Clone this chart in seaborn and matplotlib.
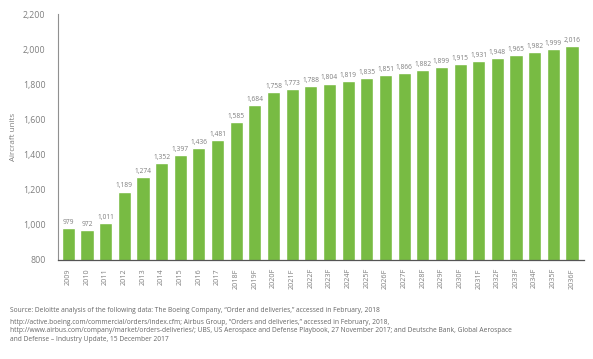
import matplotlib
matplotlib.use("Agg")
import numpy as np
import pandas as pd
import seaborn as sns
import matplotlib.pyplot as plt

years = ["2009", "2010", "2011", "2012", "2013", "2014", "2015", "2016", "2017",
         "2018F", "2019F", "2020F", "2021F", "2022F", "2023F", "2024F", "2025F",
         "2026F", "2027F", "2028F", "2029F", "2030F", "2031F", "2032F", "2033F",
         "2034F", "2035F", "2036F"]
units = [979, 972, 1011, 1189, 1274, 1352, 1397, 1436, 1481, 1585, 1684, 1758,
         1773, 1788, 1804, 1819, 1835, 1851, 1866, 1882, 1899, 1915, 1931, 1948,
         1965, 1982, 1999, 2016]
y_ticks = [800, 1000, 1200, 1400, 1600, 1800, 2000, 2200]

source_lines = [
    "Source: Deloitte analysis of the following data: The Boeing Company, \u201cOrder and deliveries,\u201d accessed in February, 2018",
    "http://active.boeing.com/commercial/orders/index.cfm; Airbus Group, \u201cOrders and deliveries,\u201d accessed in February, 2018,\n"
    "http://www.airbus.com/company/market/orders-deliveries/; UBS, US Aerospace and Defense Playbook, 27 November 2017; and Deutsche Bank, Global Aerospace\n"
    "and Defense \u2013 Industry Update, 15 December 2017",
]

sns.set_style("white")
plt.rcParams["font.family"] = ["Open Sans", "DejaVu Sans"]

df = pd.DataFrame({"year": years, "units": units})
green = "#78BB43"
gray = "#7f7f7f"

fig = plt.figure(figsize=(5.93, 3.59), dpi=100)
ax = fig.add_axes([0.098, 0.276, 0.887, 0.685])

sns.barplot(data=df, x="year", y="units", color=green, saturation=1, width=0.7, ax=ax)

for i, v in enumerate(units):
    ax.text(i, v + 12, f"{v:,}", ha="center", va="bottom", fontsize=4.8, color=gray)

ax.set_ylim(800, 2200)
ax.set_yticks(y_ticks)
ax.set_yticklabels([f"{t:,}" for t in y_ticks], fontsize=6.3, color=gray)
ax.set_xlim(-0.55, len(years) - 0.35)
ax.tick_params(axis="x", labelrotation=90, labelsize=5.2, labelcolor=gray, length=0, pad=6)
ax.tick_params(axis="y", length=0, pad=9)
ax.set_xlabel("")
ax.set_ylabel("Aircraft units", fontsize=5.8, color=gray, labelpad=4)

for s in ["top", "right"]:
    ax.spines[s].set_visible(False)
ax.spines["left"].set_color("#909090")
ax.spines["left"].set_linewidth(0.8)
ax.spines["bottom"].set_color("#555555")
ax.spines["bottom"].set_linewidth(0.9)

fig.text(0.017, 1 - 310 / 359, source_lines[0], fontsize=4.8, color="#666666", va="center")
fig.text(0.017, 1 - 319 / 359, source_lines[1], fontsize=4.8, color="#666666", va="top",
         linespacing=1.3)

fig.savefig("out.png", dpi=100)
